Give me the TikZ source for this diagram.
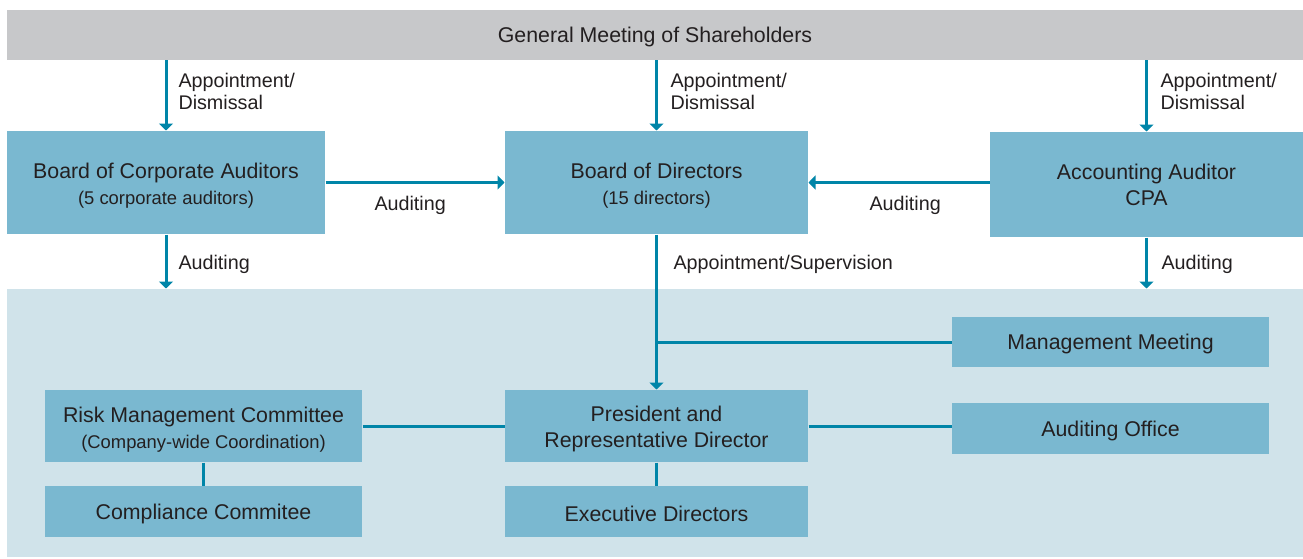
\documentclass[tikz,border=0pt]{standalone}
\usepackage{fontspec}
\setmainfont{Liberation Sans}
\usetikzlibrary{arrows.meta}

\definecolor{barGrey}{RGB}{199,200,202}
\definecolor{boxBlue}{RGB}{122,184,208}
\definecolor{areaBlue}{RGB}{208,227,234}
\definecolor{lineBlue}{RGB}{0,133,168}
\definecolor{textGrey}{RGB}{35,31,32}

\tikzset{every picture/.style={line width=0.75pt}}
\tikzset{
  orgbox/.style={rectangle, fill=boxBlue, inner sep=0pt, align=center, text=textGrey,
    font=\fontsize{16}{19.5}\selectfont, execute at begin node={\rule{0pt}{15pt}}},
  linklabel/.style={anchor=west, inner sep=0.75pt, align=left, text=textGrey, font=\fontsize{14.8}{16.5}\selectfont},
  link/.style={draw=lineBlue, line width=2.25pt},
  linkarrow/.style={link, -{Triangle[width=10.5pt,length=5.25pt]}}
}
% smaller second line, and a strut to push the first line down a little
\newcommand{\subline}[1]{{\fontsize{13.8}{19.5}\selectfont #1}}
\newcommand{\hstrut}[1]{\rule{0pt}{#1}}

\begin{document}
\begin{tikzpicture}[x=0.75pt,y=0.75pt,yscale=-1,xscale=1]
\useasboundingbox (0,0) rectangle (1303,558);

%Shape: Rectangle (shaded area)
\node (area) [rectangle, fill=areaBlue, inner sep=0pt, minimum width=972pt, minimum height=201pt] at (655,423) {};
%Shape: Rectangle (top bar)
\node (gms) [orgbox, fill=barGrey, minimum width=972pt, minimum height=37.5pt] at (655,34.5) {General Meeting of Shareholders};

%Shape: Rectangle
\node (bca) [orgbox, minimum width=238.5pt, minimum height=77.25pt] at (166,182.5) {\hstrut{16.5pt}Board of Corporate Auditors\\\subline{(5 corporate auditors)}};
%Shape: Rectangle
\node (bod) [orgbox, minimum width=227.25pt, minimum height=77.25pt] at (656.5,182.5) {\hstrut{16.5pt}Board of Directors\\\subline{(15 directors)}};
%Shape: Rectangle
\node (aa) [orgbox, minimum width=234.75pt, minimum height=78.75pt] at (1146.5,184.5) {Accounting Auditor\\CPA};

%Shape: Rectangle
\node (mm) [orgbox, minimum width=237.75pt, minimum height=37.5pt] at (1110.5,342) {Management Meeting};
%Shape: Rectangle
\node (rmc) [orgbox, minimum width=237.75pt, minimum height=54pt] at (203.5,426) {\hstrut{16.5pt}Risk Management Committee\\\subline{(Company-wide Coordination)}};
%Shape: Rectangle
\node (cc) [orgbox, minimum width=237.75pt, minimum height=38.25pt] at (203.5,511.5) {Compliance Commitee};
%Shape: Rectangle
\node (pres) [orgbox, minimum width=227.25pt, minimum height=54pt] at (656.5,426) {\hstrut{15.5pt}President and\\Representative Director};
%Shape: Rectangle
\node (ed) [orgbox, minimum width=227.25pt, minimum height=38.25pt] at (656.5,511.5) {Executive Directors};
%Shape: Rectangle
\node (ao) [orgbox, minimum width=237.75pt, minimum height=38.25pt] at (1110.5,428.5) {Auditing Office};

%Straight Lines
\draw [linkarrow] (bca.north |- gms.south) -- (bca.north);
\draw [linkarrow] (bod.north |- gms.south) -- (bod.north);
\draw [linkarrow] (aa.north |- gms.south) -- (aa.north);
%Straight Lines
\draw [linkarrow] (bca.east |- bod.west) -- (bod.west);
\draw [linkarrow] (aa.west |- bod.east) -- (bod.east);
%Straight Lines
\draw [linkarrow] (bca.south) -- (bca.south |- area.north);
\draw [linkarrow] (aa.south) -- (aa.south |- area.north);
\draw [linkarrow] (bod.south) -- (pres.north);
\draw [link] (bod.south |- mm.west) -- (mm.west);
%Straight Lines
\draw [link] (rmc.east) -- (pres.west);
\draw [link] (pres.east) -- (ao.west |- pres.east);
\draw [link] (rmc.south) -- (rmc.south |- cc.north);
\draw [link] (pres.south) -- (ed.north);

% Text Node
\draw (177,91) node [linklabel] (lblA) {Appointment/\\Dismissal};
% Text Node
\draw (669,91) node [linklabel] (lblB) {Appointment/\\Dismissal};
% Text Node
\draw (1159,91) node [linklabel] (lblC) {Appointment/\\Dismissal};
% Text Node
\draw (373,205) node [linklabel] (lblD) {Auditing};
% Text Node
\draw (868,205) node [linklabel] (lblE) {Auditing};
% Text Node
\draw (177,264) node [linklabel] (lblF) {Auditing};
% Text Node
\draw (672,264) node [linklabel] (lblG) {Appointment/Supervision};
% Text Node
\draw (1160,264) node [linklabel] (lblH) {Auditing};

\end{tikzpicture}
\end{document}
